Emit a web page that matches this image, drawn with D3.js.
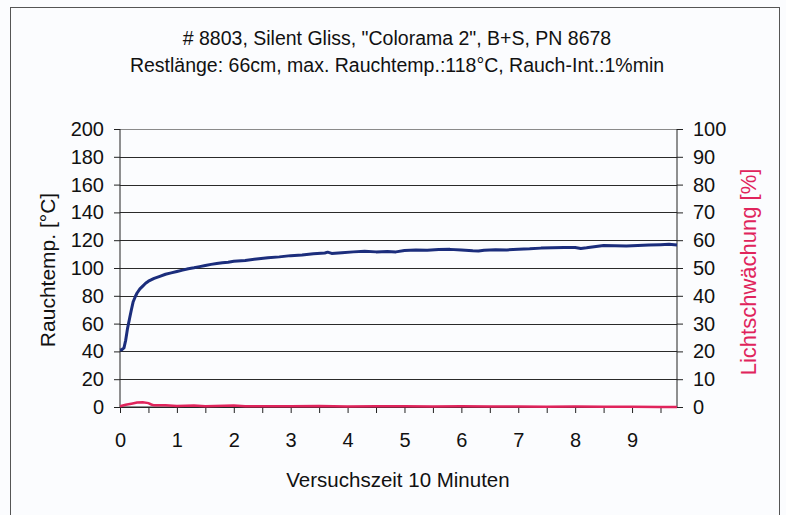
<!DOCTYPE html>
<html><head><meta charset="utf-8">
<script src="https://cdn.jsdelivr.net/npm/d3@7"></script>
<style>html,body{margin:0;padding:0;background:#fbfcfe;}svg{display:block;font-family:"Liberation Sans",Arial,sans-serif;}</style>
</head><body>
<svg id="chart" width="786" height="515"></svg>
<script>
const titleLines = ['# 8803, Silent Gliss, "Colorama 2", B+S, PN 8678', 'Restlänge: 66cm, max. Rauchtemp.:118°C, Rauch-Int.:1%min'];
const xLabel = "Versuchszeit 10 Minuten";
const yLeftLabel = "Rauchtemp. [°C]";
const yRightLabel = "Lichtschwächung [%]";
const xTickLabels = [0,1,2,3,4,5,6,7,8,9];
const yLeftTicks = [0,20,40,60,80,100,120,140,160,180,200];
const yRightTicks = [0,10,20,30,40,50,60,70,80,90,100];

const tempTime = [0,0.03,0.07,0.1,0.13,0.17,0.2,0.23,0.27,0.3,0.35,0.4,0.45,0.5,0.6,0.7,0.8,0.9,1.0,1.1,1.2,1.3,1.4,1.5,1.6,1.7,1.8,1.9,2.0,2.2,2.4,2.6,2.8,3.0,3.2,3.4,3.6,3.65,3.72,3.9,4.1,4.3,4.5,4.7,4.85,5.0,5.2,5.4,5.6,5.8,6.0,6.2,6.3,6.4,6.6,6.8,7.0,7.2,7.4,7.6,7.8,8.0,8.1,8.2,8.4,8.5,8.7,8.9,9.1,9.3,9.5,9.65,9.79];
const tempValues = [41,41.2,42.5,48,56,64,70,75.5,79.5,82,85,87,89,90.5,92.5,94,95.5,96.5,97.5,98.5,99.5,100.2,101,101.8,102.6,103.2,103.8,104.2,104.8,105.4,106.5,107.3,108,108.9,109.3,110.2,110.8,111.4,110.5,111,111.6,112,111.6,111.8,111.6,112.6,113,112.8,113.3,113.4,113,112.4,112.2,112.8,113.2,113,113.5,113.8,114.3,114.5,114.8,114.7,114.1,114.5,115.6,116.2,116,115.8,116.2,116.5,116.8,117,116.6];

const lightTime = [0,0.1,0.2,0.3,0.4,0.5,0.55,0.6,0.8,1.0,1.3,1.5,2.0,2.2,2.6,3.0,3.5,4.0,4.5,5.0,5.5,6.0,6.5,7.0,7.5,8.0,8.5,9.0,9.5,9.79];
const lightValues = [0.3,0.8,1.2,1.6,1.7,1.4,0.9,0.6,0.6,0.4,0.5,0.3,0.5,0.3,0.3,0.3,0.4,0.2,0.3,0.3,0.2,0.3,0.2,0.2,0.1,0.2,0.1,0.1,0.0,0.0];

const svg = d3.select("#chart");
const L = 120, R = 677, T = 129, B = 407;
const x = d3.scaleLinear().domain([0, 9.79]).range([L, R]);
const yL = d3.scaleLinear().domain([0, 200]).range([B, T]);
const yR = d3.scaleLinear().domain([0, 100]).range([B, T]);
const blue = "#1b2d7c", pink = "#e0245c";
const font = '"Liberation Sans",Arial,sans-serif';

// chart frame
svg.append("rect").attr("x", 10.5).attr("y", 7.5).attr("width", 769).attr("height", 520)
  .attr("fill", "#fbfcfe").attr("stroke", "#555").attr("stroke-width", 1);

// gridlines
svg.append("g").selectAll("line").data(yLeftTicks).join("line")
  .attr("x1", L).attr("x2", R)
  .attr("y1", d => Math.round(yL(d)) + 0.5).attr("y2", d => Math.round(yL(d)) + 0.5)
  .attr("stroke", d => d === 200 ? "#8a8a8a" : "#2a2a2a").attr("stroke-width", 1);

// left axis
const gL = svg.append("g").attr("transform", `translate(${L},0)`)
  .call(d3.axisLeft(yL).tickValues(yLeftTicks).tickSize(6).tickPadding(10));
// right axis
const gR = svg.append("g").attr("transform", `translate(${R},0)`)
  .call(d3.axisRight(yR).tickValues(yRightTicks).tickSize(6).tickPadding(10));
// bottom axis
const halfTicks = d3.range(0, 9.8, 0.5);
const gB = svg.append("g").attr("transform", `translate(0,${B})`)
  .call(d3.axisBottom(x).tickValues(halfTicks).tickSize(6).tickPadding(20)
    .tickFormat(d => Number.isInteger(d) && xTickLabels.includes(d) ? String(d) : ""));
[gL, gR, gB].forEach(g => {
  g.selectAll(".domain").attr("stroke", "#222");
  g.selectAll(".tick line").attr("stroke", "#222");
  g.selectAll("text").attr("font-size", 20).attr("fill", "#111").attr("font-family", font);
});
gL.select(".domain").attr("d", `M0,${T}V${B}`);
gR.select(".domain").attr("d", `M0,${T}V${B}`);
gB.select(".domain").attr("d", `M${L},0H${R}`);

// lines
const tempData = tempTime.map((t, i) => [t, tempValues[i]]);
const lightData = lightTime.map((t, i) => [t, lightValues[i]]);
svg.append("path").datum(lightData).attr("fill", "none").attr("stroke", pink).attr("stroke-width", 2.5)
  .attr("d", d3.line().x(d => x(d[0])).y(d => yR(d[1])));
svg.append("path").datum(tempData).attr("fill", "none").attr("stroke", blue).attr("stroke-width", 3)
  .attr("stroke-linejoin", "round")
  .attr("d", d3.line().x(d => x(d[0])).y(d => yL(d[1])));

// titles
svg.append("g").selectAll("text").data(titleLines).join("text")
  .attr("x", 397).attr("y", (d, i) => 45 + i * 27).attr("text-anchor", "middle")
  .attr("font-size", 19.5).attr("fill", "#111").text(d => d);
svg.append("text").attr("x", 398).attr("y", 487).attr("text-anchor", "middle")
  .attr("font-size", 20.5).attr("fill", "#111").text(xLabel);
svg.append("text").attr("transform", "translate(55,270) rotate(-90)").attr("text-anchor", "middle")
  .attr("font-size", 21).attr("fill", "#111").text(yLeftLabel);
svg.append("text").attr("transform", "translate(756,272) rotate(-90)").attr("text-anchor", "middle")
  .attr("font-size", 22).attr("fill", pink).text(yRightLabel);
</script>
</body></html>
